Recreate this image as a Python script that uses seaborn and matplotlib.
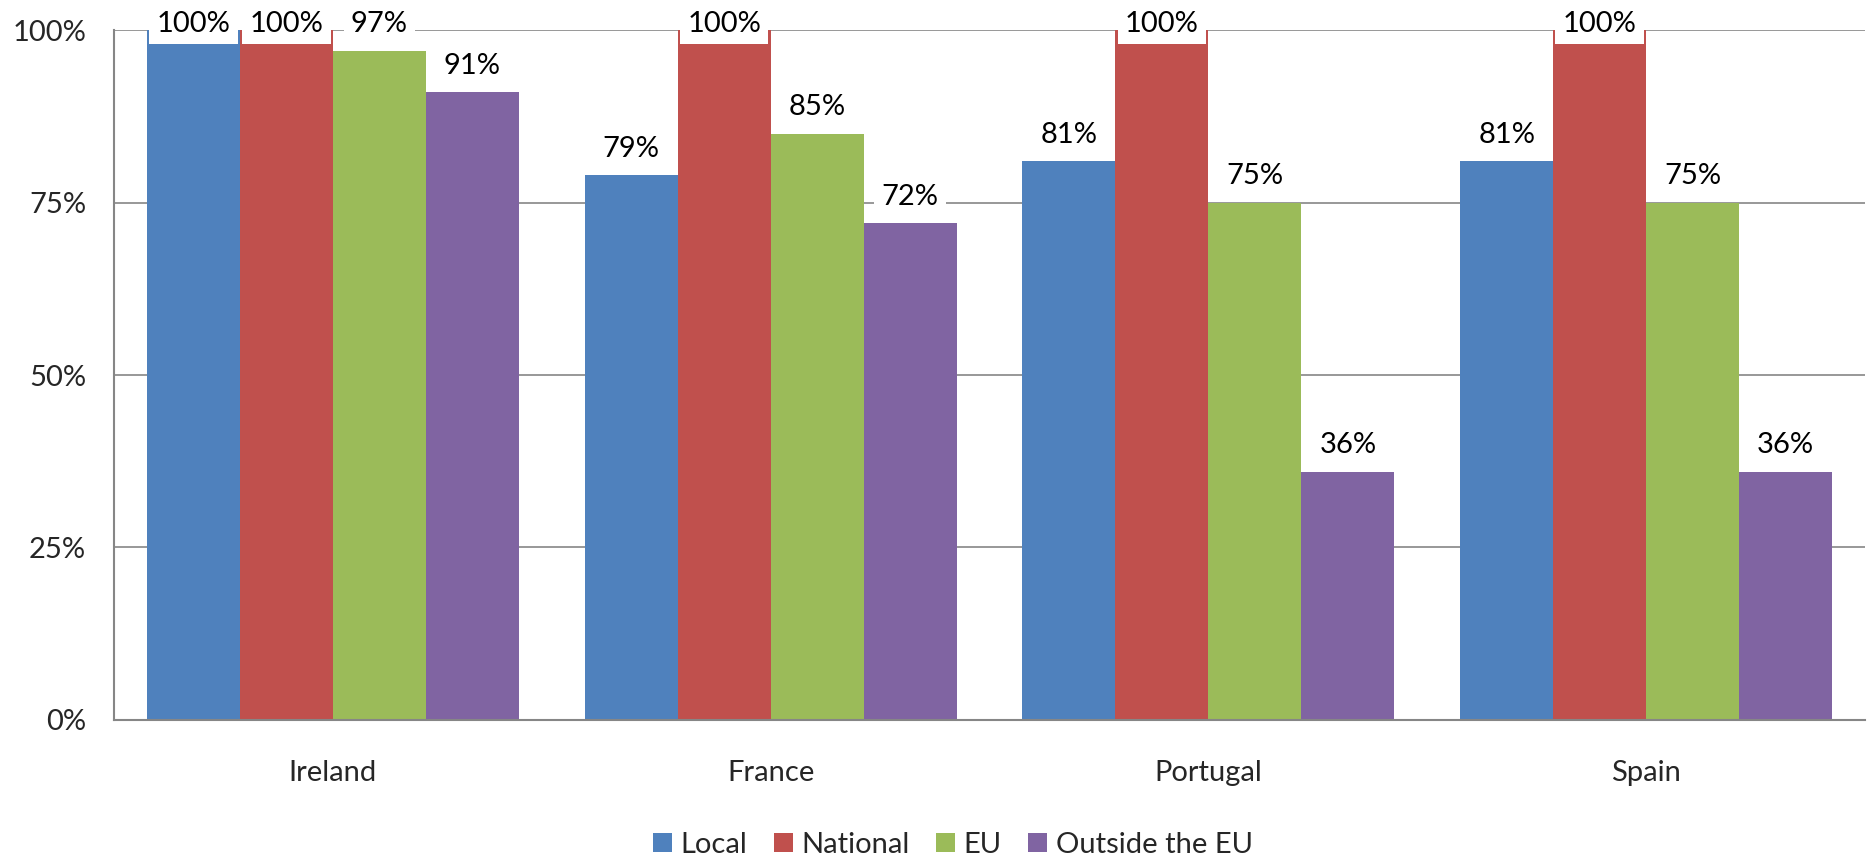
import matplotlib
matplotlib.use("Agg")
import matplotlib.pyplot as plt
import seaborn as sns
import pandas as pd

countries = ["Ireland", "France", "Portugal", "Spain"]
series = ["Local", "National", "EU", "Outside the EU"]
local = [100, 79, 81, 81]
national = [100, 100, 100, 100]
eu = [97, 85, 75, 75]
outside = [91, 72, 36, 36]
colors = ["#4F81BD", "#C0504D", "#9BBB59", "#8064A2"]
yticks = [0, 25, 50, 75, 100]

rows = []
for s, vals in zip(series, [local, national, eu, outside]):
    for c, v in zip(countries, vals):
        rows.append({"country": c, "series": s, "value": v})
df = pd.DataFrame(rows)

sns.set_theme(style="white")
plt.rcParams["font.family"] = ["Lato", "DejaVu Sans"]
FS = 21

fig = plt.figure(figsize=(18.72, 8.6), dpi=100)
ax = fig.add_axes([0.0609, 0.1628, 0.9354, 0.8023])

sns.barplot(data=df, x="country", y="value", hue="series", order=countries,
            hue_order=series, palette=colors, width=0.85, gap=0,
            linewidth=0, saturation=1, ax=ax, errorbar=None, zorder=2)

ax.set_ylim(0, 100)
ax.set_xlim(-0.5, 3.5)
ax.set_yticks(yticks)
ax.set_yticklabels([f"{t}%" for t in yticks])
ax.yaxis.grid(True, color="#868686", linewidth=1.2, zorder=0)
ax.set_axisbelow(True)
ax.tick_params(axis="y", length=0, pad=20, labelsize=FS)
ax.tick_params(axis="x", length=0, pad=29, labelsize=FS)
ax.set_xlabel("")
ax.set_ylabel("")
for sp in ["top", "right"]:
    ax.spines[sp].set_visible(False)
for sp in ["left", "bottom"]:
    ax.spines[sp].set_color("#868686")
    ax.spines[sp].set_linewidth(1.5)

for cont in ax.containers:
    for bar in cont:
        v = bar.get_height()
        x = bar.get_x() + bar.get_width() / 2
        y = min(v + 3.8, 100.9)
        ax.text(x, y, f"{v:.0f}%", ha="center", va="center", fontsize=FS,
                color="black", zorder=5, clip_on=False,
                bbox=dict(boxstyle="square,pad=0.25", fc="white", ec="none"))

leg = ax.legend(loc="center", bbox_to_anchor=(0.479, -0.181), ncol=4,
                frameon=False, fontsize=FS, handlelength=0.65, handleheight=0.65,
                handletextpad=0.3, columnspacing=0.9)

fig.savefig("out.png", dpi=100)
